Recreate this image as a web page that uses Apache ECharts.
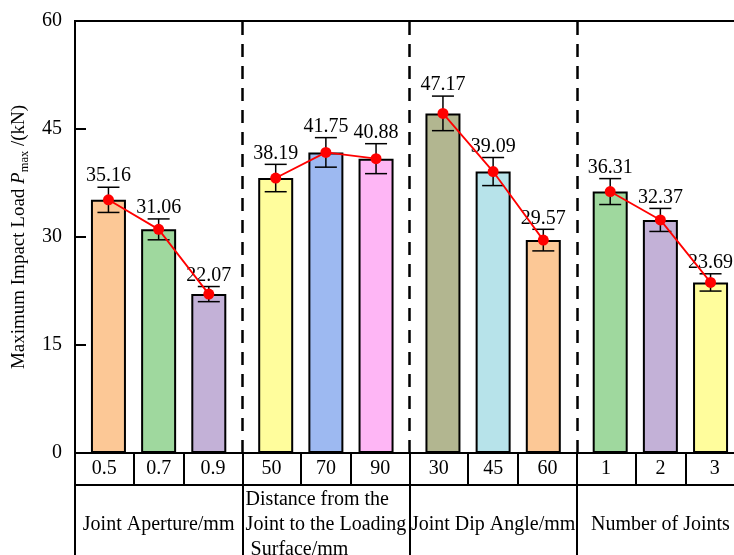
<!DOCTYPE html>
<html>
<head>
<meta charset="utf-8">
<script src="https://cdn.jsdelivr.net/npm/echarts@6/dist/echarts.min.js"></script>
<style>
html,body{margin:0;padding:0;background:#fff;}
#chart{width:734px;height:555px;}
</style>
</head>
<body>
<div id="chart"></div>
<script>
// ---- data ----
const groupNames = ['Joint Aperture/mm', 'Distance from the\nJoint to the Loading\n Surface/mm', 'Joint Dip Angle/mm', 'Number of Joints'];
const levelLabels = [['0.5', '0.7', '0.9'], ['50', '70', '90'], ['30', '45', '60'], ['1', '2', '3']];
const loads = [[35.16, 31.06, 22.07], [38.19, 41.75, 40.88], [47.17, 39.09, 29.57], [36.31, 32.37, 23.69]];
const errors = [[1.75, 1.45, 1.05], [1.9, 2.05, 2.08], [2.4, 1.95, 1.5], [1.8, 1.6, 1.2]];
const yTicks = [0, 15, 30, 45, 60];

const barColors = [['#FCC896', '#9FD89E', '#C3B1D7'], ['#FFFD9C', '#9DB9F1', '#FEB6F5'], ['#B2B690', '#B7E3EA', '#FCC896'], ['#9FD89E', '#C3B1D7', '#FFFD9C']];

// ---- layout in axis units: each group spans 10 units ----
const SPAN = 10;
const barOffsets = [2, 5, 8];
const cellBounds = [0, 3.5, 6.5];
const cellCenters = [1.75, 5, 8.25];
const FONT = "Liberation Serif";
const FS = 20;

const barData = [];
const errData = [];
const lineSeries = [];
const cellTickVals = [];
const cellLabelVals = [];
const cellLabelText = [];
const groupTickVals = [];
const groupLabelVals = [];

loads.forEach((grp, g) => {
  const pts = [];
  grp.forEach((v, j) => {
    const x = g * SPAN + barOffsets[j];
    barData.push({ value: [x, v], itemStyle: { color: barColors[g][j] } });
    errData.push([x, v, errors[g][j]]);
    pts.push([x, v]);
    cellTickVals.push(g * SPAN + cellBounds[j]);
    cellLabelVals.push(g * SPAN + cellCenters[j]);
    cellLabelText.push(levelLabels[g][j]);
  });
  groupTickVals.push(g * SPAN);
  groupLabelVals.push(g * SPAN + SPAN / 2);
  lineSeries.push({
    type: 'line', data: pts, z: 6,
    symbol: 'circle', symbolSize: 11,
    itemStyle: { color: '#FF0000' },
    lineStyle: { color: '#FF0000', width: 1.8 }
  });
});
const XMAX = loads.length * SPAN;
cellTickVals.push(XMAX);
groupTickVals.push(XMAX);

function findIdx(arr, v) {
  for (let i = 0; i < arr.length; i++) if (Math.abs(arr[i] - v) < 1e-6) return i;
  return -1;
}

const chart = echarts.init(document.getElementById('chart'));
const option = {
  animation: false,
  backgroundColor: '#fff',
  grid: { left: 75, top: 21, width: 669, height: 432, show: true, borderColor: '#000', borderWidth: 2, backgroundColor: 'transparent', outerBoundsMode: 'none', containLabel: false },
  xAxis: [
    {
      type: 'value', min: 0, max: XMAX, position: 'bottom',
      splitLine: { show: false },
      axisLine: { show: true, lineStyle: { color: '#000', width: 2 } },
      axisTick: { show: true, inside: false, length: 32, customValues: cellTickVals, lineStyle: { color: '#000', width: 2 } },
      axisLabel: {
        show: true, customValues: cellLabelVals, margin: 16, verticalAlign: 'middle',
        color: '#000', fontSize: FS, fontFamily: FONT,
        formatter: function (v) { const i = findIdx(cellLabelVals, v); return i >= 0 ? cellLabelText[i] : ''; }
      }
    },
    {
      type: 'value', min: 0, max: XMAX, position: 'bottom', offset: 32,
      splitLine: { show: false },
      axisLine: { show: true, lineStyle: { color: '#000', width: 2 } },
      axisTick: { show: true, inside: false, length: 90, customValues: groupTickVals, lineStyle: { color: '#000', width: 2 } },
      axisLabel: {
        show: true, customValues: groupLabelVals, margin: 40, verticalAlign: 'middle',
        color: '#000', fontSize: FS, fontFamily: FONT, lineHeight: 25,
        formatter: function (v) {
          const i = findIdx(groupLabelVals, v);
          if (i < 0) return '';
          const name = groupNames[i];
          if (name.indexOf('\n') >= 0) {
            return name.split('\n').map(s => '{l|' + s + '}').join('\n');
          }
          return name;
        },
        rich: { l: { align: 'left', fontSize: FS, fontFamily: FONT, color: '#000', lineHeight: 25 } }
      }
    }
  ],
  yAxis: {
    type: 'value', min: 0, max: 60, interval: 15,
    splitLine: { show: false },
    axisLine: { show: true, lineStyle: { color: '#000', width: 2 } },
    axisTick: { show: true, inside: true, length: 11, lineStyle: { color: '#000', width: 2 } },
    axisLabel: {
      color: '#000', fontSize: FS, fontFamily: FONT, margin: 13,
      formatter: function (v) { return yTicks.indexOf(v) >= 0 ? String(v) : ''; }
    },
    name: '{t|Maximum Impact Load }{i|P}{s|max}{t| /(kN)}',
    nameLocation: 'middle', nameRotate: 90, nameGap: 43,
    nameTextStyle: {
      rich: {
        t: { fontSize: 19, fontFamily: FONT, color: '#000', lineHeight: 24 },
        i: { fontSize: 19, fontFamily: FONT, color: '#000', fontStyle: 'italic', lineHeight: 24 },
        s: { fontSize: 12.5, fontFamily: FONT, color: '#000', verticalAlign: 'bottom', lineHeight: 13 }
      }
    }
  },
  series: [
    {
      type: 'bar', data: barData, barWidth: 35, z: 2,
      itemStyle: { borderColor: '#000', borderWidth: 2 },
      markLine: {
        silent: true, symbol: 'none', label: { show: false },
        lineStyle: { color: '#000', width: 2.5, type: [13, 9] },
        data: [{ xAxis: 10 }, { xAxis: 20 }, { xAxis: 30 }]
      }
    },
    {
      type: 'custom', data: errData, z: 4,
      renderItem: function (params, api) {
        const x = api.value(0), y = api.value(1), e = api.value(2);
        const top = api.coord([x, y + e]);
        const bot = api.coord([x, y - e]);
        const cx = top[0], hw = 11;
        const st = { stroke: '#000', lineWidth: 1.5 };
        return {
          type: 'group', children: [
            { type: 'line', shape: { x1: cx, y1: top[1], x2: cx, y2: bot[1] }, style: st },
            { type: 'line', shape: { x1: cx - hw, y1: top[1], x2: cx + hw, y2: top[1] }, style: st },
            { type: 'line', shape: { x1: cx - hw, y1: bot[1], x2: cx + hw, y2: bot[1] }, style: st },
            { type: 'text', style: { text: y.toFixed(2), x: cx, y: top[1] - 1, align: 'center', verticalAlign: 'bottom', fontSize: FS, fontFamily: FONT, fill: '#000' } }
          ]
        };
      }
    }
  ].concat(lineSeries)
};
chart.setOption(option);
</script>
</body>
</html>
